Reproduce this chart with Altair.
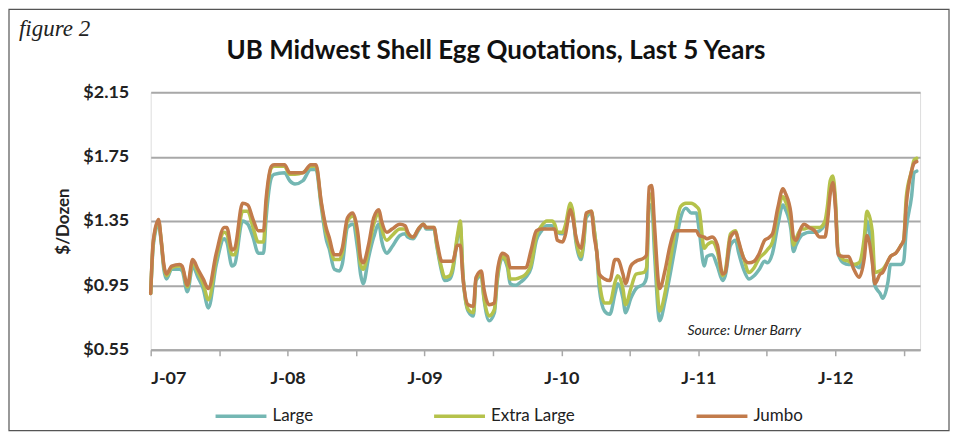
import altair as alt
import pandas as pd

# weeks since 1 Jan 2007
weeks = [0, 1, 3, 4, 5, 6, 8, 11, 12, 14, 16, 18, 20, 22, 25, 28, 29, 31, 32, 35, 37, 39, 41, 43, 44, 46, 47, 51,
         53, 55, 58, 61, 63, 65, 67, 68, 70, 72, 73, 75, 77, 79, 80, 81, 83, 85, 87, 88, 90, 92, 95, 97, 98, 100, 102, 104,
         105, 108, 109, 111, 112, 114, 115, 117, 118, 119, 121, 123, 124, 126, 127, 129, 131, 132, 134, 136,
         137, 139, 141, 143, 145, 147, 149, 151, 153, 154, 155, 157,
         158, 160, 161, 162, 164, 165, 166, 168, 169, 170, 171, 173, 175, 177, 178, 180, 181, 183, 185, 188,
         189, 190, 191, 192, 194, 196, 198, 200, 202, 204, 206, 208, 209, 211,
         212, 214, 216, 218, 219, 221, 223, 224, 226, 228, 230, 232, 234, 235, 237, 239, 241, 242, 244, 245,
         246, 248, 249, 251, 253, 255, 257, 258, 259, 260, 261, 262,
         264, 266, 268, 270, 272, 273, 275, 276, 278, 279, 281, 282, 284, 286, 287, 288, 290, 291, 292]

large = [0.90, 1.20, 1.33, 1.22, 1.05, 0.99, 1.05, 1.05, 1.04, 0.91, 1.07, 1.00, 0.93, 0.81, 1.08, 1.24, 1.22, 1.07, 1.08, 1.35,
         1.33, 1.25, 1.15, 1.15, 1.37, 1.62, 1.64, 1.65,
         1.60, 1.58, 1.60, 1.67, 1.67, 1.44, 1.23, 1.18, 1.05, 1.04, 1.08, 1.31, 1.33, 1.16, 1.02, 0.96, 1.12, 1.25, 1.33, 1.23,
         1.15, 1.19, 1.26, 1.27, 1.25, 1.24, 1.29, 1.33,
         1.30, 1.30, 1.20, 1.03, 0.98, 0.99, 1.03, 1.25, 1.32, 1.02, 0.79, 0.76, 0.98, 1.01, 0.87, 0.73, 0.78, 0.96, 1.12, 1.06,
         0.96, 0.95, 0.97, 1.00, 1.06, 1.23, 1.29, 1.32, 1.32, 1.30, 1.28, 1.27,
         1.30, 1.43, 1.38, 1.23, 1.11, 1.20, 1.37, 1.40, 1.30, 1.16, 0.93, 0.79, 0.77, 0.90, 0.96, 0.87, 0.78, 0.87, 0.93, 0.96,
         1.00, 1.45, 1.45, 1.16, 0.73, 0.85, 1.02, 1.20, 1.37, 1.43, 1.40, 1.40, 1.30, 1.07,
         1.13, 1.14, 1.07, 0.98, 1.01, 1.20, 1.23, 1.16, 1.05, 0.99, 1.01, 1.05, 1.10, 1.09, 1.15, 1.32, 1.45, 1.42, 1.30, 1.16,
         1.20, 1.26, 1.27, 1.28, 1.28, 1.29, 1.33, 1.40, 1.55, 1.59, 1.45, 1.15,
         1.09, 1.08, 1.08, 1.06, 1.20, 1.35, 1.12, 0.95, 0.90, 0.87, 0.97, 1.08, 1.08, 1.08, 1.10, 1.30, 1.50, 1.65, 1.66]

extra_large = [0.90, 1.22, 1.35, 1.23, 1.07, 1.01, 1.06, 1.07, 1.06, 0.94, 1.09, 1.03, 0.96, 0.86, 1.12, 1.28, 1.27, 1.14, 1.14, 1.41,
               1.41, 1.31, 1.22, 1.22, 1.45, 1.68, 1.69, 1.69,
               1.64, 1.64, 1.65, 1.69, 1.69, 1.46, 1.27, 1.22, 1.11, 1.11, 1.15, 1.35, 1.38, 1.23, 1.08, 1.05, 1.17, 1.33, 1.40, 1.31,
               1.23, 1.26, 1.30, 1.30, 1.27, 1.25, 1.30, 1.33,
               1.31, 1.31, 1.21, 1.05, 1.00, 1.01, 1.05, 1.27, 1.35, 1.02, 0.80, 0.78, 0.99, 1.02, 0.88, 0.76, 0.80, 0.98, 1.13, 1.08,
               0.99, 0.99, 1.00, 1.02, 1.08, 1.26, 1.32, 1.35, 1.35, 1.33, 1.28, 1.28,
               1.32, 1.46, 1.40, 1.25, 1.13, 1.22, 1.39, 1.41, 1.30, 1.16, 0.98, 0.84, 0.84, 0.97, 1.01, 0.93, 0.83, 0.93, 1.02, 1.03,
               1.06, 1.50, 1.52, 1.25, 0.79, 0.90, 1.10, 1.30, 1.44, 1.46, 1.46, 1.44, 1.42, 1.18,
               1.20, 1.22, 1.16, 1.01, 1.04, 1.27, 1.29, 1.22, 1.12, 1.03, 1.06, 1.12, 1.15, 1.17, 1.22, 1.40, 1.50, 1.47, 1.35, 1.20,
               1.24, 1.30, 1.30, 1.31, 1.31, 1.31, 1.35, 1.45, 1.60, 1.63, 1.48, 1.16,
               1.11, 1.10, 1.08, 1.09, 1.25, 1.41, 1.29, 1.03, 1.04, 1.05, 1.10, 1.13, 1.15, 1.20, 1.23, 1.50, 1.66, 1.73, 1.74]

jumbo = [0.90, 1.23, 1.36, 1.23, 1.08, 1.02, 1.07, 1.08, 1.07, 0.95, 1.11, 1.05, 0.99, 0.93, 1.15, 1.31, 1.31, 1.17, 1.18, 1.46,
         1.45, 1.36, 1.29, 1.29, 1.49, 1.69, 1.70, 1.70,
         1.65, 1.65, 1.65, 1.70, 1.70, 1.47, 1.30, 1.25, 1.14, 1.14, 1.18, 1.37, 1.40, 1.27, 1.12, 1.09, 1.20, 1.37, 1.42, 1.35,
         1.28, 1.30, 1.33, 1.32, 1.28, 1.25, 1.30, 1.33,
         1.31, 1.31, 1.23, 1.10, 1.10, 1.10, 1.10, 1.20, 1.20, 1.00, 0.83, 0.82, 1.00, 1.04, 0.93, 0.83, 0.84, 1.02, 1.15, 1.13,
         1.06, 1.06, 1.06, 1.06, 1.17, 1.29, 1.30, 1.30, 1.30, 1.30, 1.23, 1.22,
         1.26, 1.42, 1.36, 1.26, 1.18, 1.27, 1.40, 1.41, 1.26, 1.16, 1.02, 0.99, 0.98, 1.11, 1.11, 1.02, 0.96, 1.07, 1.10, 1.12,
         1.14, 1.56, 1.57, 1.33, 0.93, 1.04, 1.20, 1.29, 1.29, 1.29, 1.29, 1.29, 1.26, 1.25,
         1.24, 1.25, 1.20, 1.02, 1.03, 1.25, 1.28, 1.23, 1.12, 1.09, 1.10, 1.15, 1.23, 1.24, 1.27, 1.43, 1.55, 1.52, 1.40, 1.25,
         1.23, 1.31, 1.33, 1.31, 1.29, 1.25, 1.25, 1.35, 1.52, 1.59, 1.43, 1.14,
         1.13, 1.13, 1.05, 1.00, 1.12, 1.26, 1.10, 0.96, 1.02, 1.03, 1.10, 1.13, 1.15, 1.20, 1.23, 1.45, 1.66, 1.71, 1.72]

series_names = ["Large", "Extra Large", "Jumbo"]
series_colors = ["#74b7b3", "#b5c24b", "#c27b4b"]
y_ticks = [0.55, 0.95, 1.35, 1.75, 2.15]
x_ticks = [2007, 2007.5, 2008, 2008.5, 2009, 2009.5, 2010, 2010.5, 2011, 2011.5, 2012, 2012.5]
x_domain = [2007, 2012.62]

title_text = "UB Midwest Shell Egg Quotations, Last 5 Years"
figure_label = "figure 2"
source_text = "Source: Urner Barry"

rows = []
for order, (name, vals) in enumerate(zip(series_names, [large, extra_large, jumbo])):
    for w, v in zip(weeks, vals):
        rows.append({"year": 2007 + w / 52.18, "price": v, "series": name, "order": order})
df = pd.DataFrame(rows)

W, H = 771, 258
FONT = "Lato"
GRID = "#a8a8a8"

lines = alt.Chart(df).mark_line(strokeWidth=3.5, strokeJoin="round", strokeCap="round",
                                interpolate="monotone").encode(
    x=alt.X("year:Q", scale=alt.Scale(domain=x_domain, nice=False, zero=False),
            axis=alt.Axis(values=x_ticks, title=None, grid=False,
                          labelExpr="datum.value % 1 === 0 ? 'J-' + (datum.value < 2010 ? '0' : '') + (datum.value - 2000) : ''",
                          labelFont=FONT, labelFontSize=18, labelFontWeight="bold", labelColor="#222",
                          domainColor=GRID, domainWidth=2, tickColor=GRID, tickWidth=1.5, tickSize=6,
                          labelPadding=14)),
    y=alt.Y("price:Q", scale=alt.Scale(domain=[0.55, 2.15], nice=False, zero=False),
            axis=alt.Axis(values=y_ticks, format="$.2f", title="$/Dozen", grid=True, gridColor=GRID,
                          gridWidth=2, domain=False, ticks=False, labelPadding=22,
                          labelFont=FONT, labelFontSize=18, labelFontWeight="bold", labelColor="#222",
                          titleFont=FONT, titleFontSize=17, titleFontWeight="bold", titleColor="#222",
                          titlePadding=10)),
    color=alt.Color("series:N", scale=alt.Scale(domain=series_names, range=series_colors),
                    legend=alt.Legend(title=None, orient="none", legendX=63, legendY=297,
                                      direction="horizontal", symbolType="stroke", symbolSize=2600,
                                      symbolStrokeWidth=3.5, labelFont=FONT, labelFontSize=17,
                                      labelColor="#222", columnPadding=114, labelOffset=4, padding=0)),
    order=alt.Order("year:Q"),
    detail="series:N",
)

one = pd.DataFrame({"t": [0]})

frame = alt.Chart(one).mark_rect(filled=False, stroke="#555555", strokeWidth=1.2).encode(
    x=alt.value(-142), x2=alt.value(W + 29), y=alt.value(-83), y2=alt.value(H + 81))

title = alt.Chart(one).mark_text(text=title_text, font=FONT, fontSize=26, fontWeight="bold",
                                 color="#111", align="center", baseline="middle").encode(
    x=alt.value(346), y=alt.value(-41))

fig = alt.Chart(one).mark_text(text=figure_label, font="Liberation Serif", fontSize=23, fontStyle="italic",
                               color="#222", align="left", baseline="middle").encode(
    x=alt.value(-132), y=alt.value(-63))

source = alt.Chart(one).mark_text(text=source_text, font=FONT, fontSize=14, fontStyle="italic",
                                  color="#222", align="left", baseline="middle").encode(
    x=alt.value(538), y=alt.value(239))

chart = alt.layer(frame, lines, title, fig, source).properties(
    width=W, height=H, padding=0
).configure_view(stroke=None).configure(background="white")

chart.save("out.html", embed_options={"renderer": "svg", "actions": False})
